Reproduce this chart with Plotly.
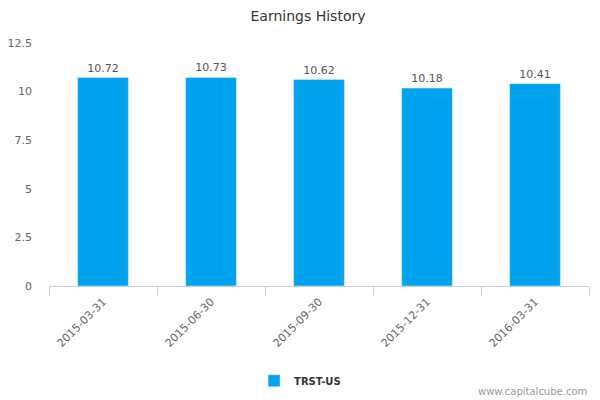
import plotly.graph_objects as go

# Earnings history
periods = ["2015-03-31", "2015-06-30", "2015-09-30", "2015-12-31", "2016-03-31"]
earnings = [10.72, 10.73, 10.62, 10.18, 10.41]
y_ticks = [0, 2.5, 5, 7.5, 10, 12.5]

fig = go.Figure(go.Bar(
    x=periods,
    y=earnings,
    name="TRST-US",
    marker_color="#01A2EE",
    text=[f"{v:.2f}" for v in earnings],
    textposition="outside",
    textfont=dict(size=11, color="#555555"),
    cliponaxis=False,
))

# page body adds an 8px offset, so margins are shifted up/left by 8
fig.update_layout(
    width=600, height=400,
    margin=dict(l=41, r=19, t=35, b=122),
    paper_bgcolor="white", plot_bgcolor="white",
    font=dict(family="DejaVu Sans", size=11, color="#666666"),
    title=dict(text="Earnings History", x=0.5, xanchor="center", y=0.98, yanchor="middle",
               font=dict(size=14, color="#333333")),
    bargap=0.53,
    showlegend=True,
    legend=dict(orientation="h", x=0.465, xanchor="center", y=-0.39, yanchor="middle",
                font=dict(size=10, color="#333333", weight="bold")),
)
fig.update_xaxes(
    type="category", tickangle=-45, showgrid=False, automargin=False,
    showline=True, linecolor="#C0D0E0", linewidth=1,
    ticks="outside", tickson="boundaries", ticklen=8, tickcolor="#C0D0E0",
    ticklabelstandoff=4,
    tickfont=dict(size=11, color="#666666"),
)
fig.update_yaxes(
    range=[0, 12.5], tickvals=y_ticks, ticktext=[str(t) for t in y_ticks],
    showgrid=False, zeroline=False, showline=False, automargin=False,
    ticklabelstandoff=16,
    tickfont=dict(size=11, color="#666666"),
)
fig.add_annotation(text="www.capitalcube.com", xref="paper", yref="paper",
                   x=1.0, y=-0.436, xanchor="right", yanchor="middle", showarrow=False,
                   font=dict(size=10, color="#999999"))

fig.write_html("out.html")
